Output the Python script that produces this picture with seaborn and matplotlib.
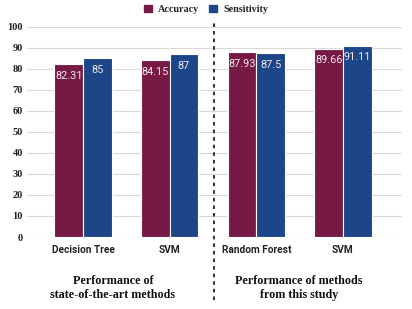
import matplotlib
matplotlib.use("Agg")
import matplotlib.pyplot as plt
import seaborn as sns
import pandas as pd
from matplotlib.lines import Line2D

categories = ["Decision Tree", "SVM", "Random Forest", "SVM"]
accuracy = [82.31, 84.15, 87.93, 89.66]
sensitivity = [85, 87, 87.5, 91.11]
series_names = ["Accuracy", "Sensitivity"]
group_labels = ["Performance of\nstate-of-the-art methods", "Performance of methods\nfrom this study"]
colors = ["#761a45", "#1d4689"]

keys = [f"{c}_{i}" for i, c in enumerate(categories)]
df = pd.DataFrame({
    "key": keys * 2,
    "metric": [series_names[0]] * 4 + [series_names[1]] * 4,
    "value": accuracy + sensitivity,
})

sns.set_style("white")
fig = plt.figure(figsize=(4.12, 3.09), dpi=100)
ax = fig.add_axes([0.0655, 0.233, 0.91, 0.68])

sns.barplot(data=df, x="key", y="value", hue="metric", order=keys,
            hue_order=series_names, palette=colors, width=0.66, saturation=1,
            edgecolor="white", linewidth=0.8, ax=ax, legend=False, zorder=3)

ax.set_ylim(0, 100)
ax.set_xlim(-0.646, 3.68)
ax.set_yticks(range(0, 101, 10))
ax.yaxis.grid(True, color="#d9d9d9", linewidth=0.8, zorder=0)
for s in ax.spines.values():
    s.set_visible(False)
ax.set_xlabel("")
ax.set_ylabel("")
ax.set_xticks(range(4))
ax.set_xticklabels(categories, fontfamily="Roboto", fontweight="bold", fontsize=7.3, color="#222222")
for lab in ax.get_yticklabels():
    lab.set_fontfamily("Liberation Serif")
    lab.set_fontweight("bold")
    lab.set_fontsize(7.5)
    lab.set_color("#222222")
ax.tick_params(axis="both", length=0, pad=3)
ax.tick_params(axis="x", pad=6)

for cont in ax.containers:
    labels = [f"{v:g}" for v in cont.datavalues]
    ax.bar_label(cont, labels=labels, label_type="edge", padding=-12,
                 fontfamily="Roboto", fontsize=7.8, color="#f3e6ee")

# dashed separator
sep = Line2D([0.5195, 0.5195], [0.03, 0.935], transform=fig.transFigure,
             color="#222222", linestyle=(0, (2, 2.2)), linewidth=1.3)
fig.add_artist(sep)

fig.text(0.274, 0.068, group_labels[0], ha="center", va="center",
         fontfamily="Liberation Serif", fontweight="bold", fontsize=8.7,
         linespacing=1.3, color="#111111")
fig.text(0.725, 0.068, group_labels[1], ha="center", va="center",
         fontfamily="Liberation Serif", fontweight="bold", fontsize=8.7,
         linespacing=1.3, color="#111111")

handles = [plt.Rectangle((0, 0), 1, 1, color=c) for c in colors]
fig.legend(handles, series_names, loc="center", bbox_to_anchor=(0.5, 0.97),
           ncol=2, frameon=False, handlelength=0.8, handleheight=0.8,
           columnspacing=1.0, handletextpad=0.6,
           prop={"family": "Liberation Serif", "weight": "bold", "size": 7.3})

fig.savefig("out.png", dpi=100)
